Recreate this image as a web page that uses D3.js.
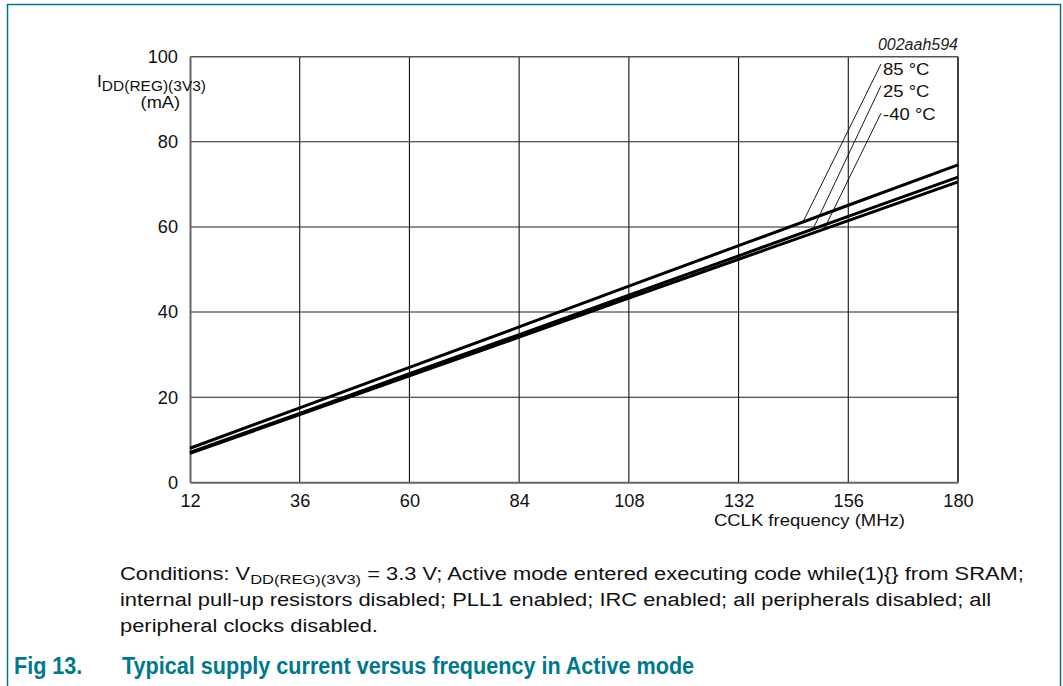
<!DOCTYPE html>
<html>
<head>
<meta charset="utf-8">
<script src="https://cdn.jsdelivr.net/npm/d3@7.9.0/dist/d3.min.js"></script>
<style>
  body { margin: 0; background: #fff; }
  svg { display: block; font-family: "Liberation Sans", Arial, sans-serif; }
</style>
</head>
<body>
<div id="chart"></div>
<script>
// values
const freqTicks = [12, 36, 60, 84, 108, 132, 156, 180];
const currentTicks = [0, 20, 40, 60, 80, 100];
const freqs = [12, 36, 60, 84, 108, 132, 156, 180];
const i85 = [8.0, 17.5, 27.0, 36.5, 46.1, 55.6, 65.1, 74.6];
const i25 = [7.0, 16.2, 25.5, 34.7, 44.0, 53.2, 62.5, 71.7];
const iMinus40 = [6.8, 15.9, 25.0, 34.1, 43.3, 52.4, 61.5, 70.6];
const seriesNames = ["85 °C", "25 °C", "-40 °C"];
const figId = "002aah594";

const W = 1063, H = 686;
const teal = "#00788c";
const ink = "#111";

const svg = d3.select("#chart").append("svg")
  .attr("width", W)
  .attr("height", H);

// outer frame (open at the bottom)
svg.append("path")
  .attr("d", `M7.5,${H} V4.5 H1060.5 V${H}`)
  .attr("fill", "none")
  .attr("stroke", teal)
  .attr("stroke-width", 1.5);

const x = d3.scaleLinear().domain([12, 180]).range([190, 958]);
const y = d3.scaleLinear().domain([0, 100]).range([482.3, 56.7]);

// grid
const grid = svg.append("g");
grid.selectAll(".vg")
  .data(freqTicks.slice(1))
  .join("line")
    .attr("x1", d => x(d)).attr("x2", d => x(d))
    .attr("y1", y(0)).attr("y2", y(100))
    .attr("stroke", "#111")
    .attr("stroke-width", d => d === 180 ? 1.6 : 1.1);
grid.selectAll(".hg")
  .data(currentTicks.slice(1, -1))
  .join("line")
    .attr("x1", x(12)).attr("x2", x(180))
    .attr("y1", d => y(d)).attr("y2", d => y(d))
    .attr("stroke", "#222")
    .attr("stroke-width", 1.1);

// top border, left and bottom axes (grey)
svg.append("line")
  .attr("x1", x(12)).attr("x2", x(180))
  .attr("y1", y(100)).attr("y2", y(100))
  .attr("stroke", "#555").attr("stroke-width", 1.5);

const xAxis = svg.append("g")
  .attr("transform", `translate(0,${y(0)})`)
  .call(d3.axisBottom(x).tickValues(freqTicks).tickSize(0).tickPadding(12));
const yAxis = svg.append("g")
  .attr("transform", `translate(${x(12)},0)`)
  .call(d3.axisLeft(y).tickValues(currentTicks).tickSize(0).tickPadding(12));

[xAxis, yAxis].forEach(g => {
  g.select(".domain").attr("stroke", "#666").attr("stroke-width", 2);
  g.selectAll("text")
    .attr("font-family", "'Liberation Sans', Arial, sans-serif")
    .attr("font-size", 18.2)
    .attr("fill", ink);
});

// data lines
const series = [i85, i25, iMinus40];
const line = d3.line()
  .x((d, i) => x(freqs[i]))
  .y(d => y(d));

svg.append("g").selectAll("path")
  .data(series)
  .join("path")
    .attr("d", line)
    .attr("fill", "none")
    .attr("stroke", "#000")
    .attr("stroke-width", 3);

// labels with leader lines
const labelFreq = 163.6;
const labelMa = [95.7, 90.6, 85.1];
const leaderFreq = [146.1, 148.3, 150.7];
const valueAt = (vals, f) => {
  const i = Math.min(d3.bisectRight(freqs, f) - 1, freqs.length - 2);
  const t = (f - freqs[i]) / (freqs[i + 1] - freqs[i]);
  return vals[i] + t * (vals[i + 1] - vals[i]);
};

const ann = svg.append("g");
seriesNames.forEach((name, k) => {
  const tx = x(labelFreq), ty = y(labelMa[k]);
  ann.append("line")
    .attr("x1", tx - 2).attr("y1", ty - (k === 2 ? 7 : 11))
    .attr("x2", x(leaderFreq[k])).attr("y2", y(valueAt(series[k], leaderFreq[k])))
    .attr("stroke", "#000").attr("stroke-width", 0.9);
  ann.append("text")
    .attr("transform", `translate(${tx},${ty}) scale(1,0.85)`)
    .attr("font-size", 18.5)
    .attr("fill", ink)
    .text(name);
});

// figure id
svg.append("text")
  .attr("x", x(180)).attr("y", 50)
  .attr("text-anchor", "end")
  .attr("font-size", 16)
  .attr("font-style", "italic")
  .attr("fill", "#222")
  .text(figId);

// y axis title
const yt = svg.append("text")
  .attr("transform", "translate(97,86.5) scale(1,0.9)")
  .attr("font-size", 17.5)
  .attr("fill", ink);
yt.append("tspan").text("I");
yt.append("tspan").attr("font-size", 15.5).attr("dy", 5.5).text("DD(REG)(3V3)");
svg.append("text")
  .attr("transform", "translate(180,108) scale(1,0.9)")
  .attr("text-anchor", "end")
  .attr("font-size", 18.2)
  .attr("fill", ink)
  .text("(mA)");

// x axis title
svg.append("text")
  .attr("transform", "translate(905,525.5) scale(1,0.92)")
  .attr("text-anchor", "end")
  .attr("font-size", 18.5)
  .attr("fill", ink)
  .text("CCLK frequency (MHz)");

// conditions note
const noteLine = (yPos) => svg.append("text")
  .attr("transform", `translate(120,${yPos}) scale(1,0.82)`)
  .attr("font-size", 21.9)
  .attr("fill", ink);
const note = noteLine(579.5);
note.append("tspan").text("Conditions: V");
note.append("tspan").attr("font-size", 16.5).attr("dy", 5).text("DD(REG)(3V3)");
note.append("tspan").attr("dy", -5).text(" = 3.3 V; Active mode entered executing code while(1){} from SRAM;");
noteLine(605.8).text("internal pull-up resistors disabled; PLL1 enabled; IRC enabled; all peripherals disabled; all");
noteLine(632).text("peripheral clocks disabled.");

// figure caption
const capLine = (xPos, txt) => svg.append("text")
  .attr("transform", `translate(${xPos},674) scale(1,1.1)`)
  .attr("font-size", 21.6)
  .attr("font-weight", "bold")
  .attr("fill", teal)
  .text(txt);
capLine(14, "Fig 13.");
capLine(122, "Typical supply current versus frequency in Active mode");
</script>
</body>
</html>
